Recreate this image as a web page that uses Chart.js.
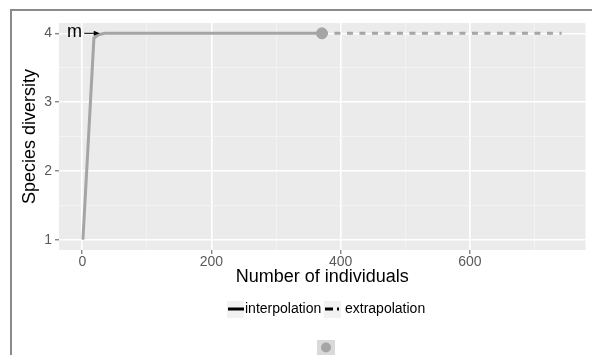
<!DOCTYPE html>
<html>
<head>
<meta charset="utf-8">
<script src="https://cdn.jsdelivr.net/npm/chart.js@4.4.1/dist/chart.umd.min.js"></script>
<style>
  html, body { margin: 0; padding: 0; background: #fff; }
  #wrap { position: relative; width: 592px; height: 355px; }
</style>
</head>
<body>
<div id="wrap"><canvas id="chart"></canvas></div>
<script>
// rarefaction (interpolation) and extrapolation curves
const interpX = [1, 18, 25, 35, 371];
const interpY = [1, 3.93, 3.98, 4.0, 4.0];
const extrapX = [371, 742];
const extrapY = [4.0, 4.0];
const observedX = [371];
const observedY = [4.0];

const xTickValues = [0, 100, 200, 300, 400, 500, 600, 700];
const xTickLabels = ['0', '', '200', '', '400', '', '600', ''];
const yTickValues = [1, 1.5, 2, 2.5, 3, 3.5, 4];
const yTickLabels = ['1', '', '2', '', '3', '', '4'];

const xTitle = 'Number of individuals';
const yTitle = 'Species diversity';
const legendLabels = ['interpolation', 'extrapolation'];
const siteLabel = 'm';

const lineGrey = '#a5a5a5';
const font = '"Liberation Sans", Arial, sans-serif';

const toPts = (xs, ys) => xs.map((x, i) => ({ x, y: ys[i] }));

const decor = {
  id: 'decor',
  beforeDraw(chart) {
    const { ctx, chartArea: a } = chart;
    ctx.save();
    ctx.fillStyle = '#ebebeb';
    ctx.fillRect(a.left, a.top, a.right - a.left, a.bottom - a.top);
    ctx.restore();
  },
  afterDraw(chart) {
    const { ctx, chartArea: a, scales } = chart;
    ctx.save();
    // outer frame (top and left only)
    ctx.strokeStyle = '#8a8a8a';
    ctx.lineWidth = 2;
    ctx.beginPath();
    ctx.moveTo(11, 355); ctx.lineTo(11, 10); ctx.lineTo(592, 10);
    ctx.stroke();

    // label + arrow next to the curve start
    const yv = scales.y.getPixelForValue(4);
    ctx.fillStyle = '#000';
    ctx.font = '18px ' + font;
    ctx.textAlign = 'center';
    ctx.textBaseline = 'middle';
    ctx.fillText(siteLabel, scales.x.getPixelForValue(-12), yv - 1);
    const ax0 = scales.x.getPixelForValue(3), ax1 = scales.x.getPixelForValue(27);
    ctx.strokeStyle = '#000';
    ctx.lineWidth = 1;
    ctx.beginPath(); ctx.moveTo(ax0, yv); ctx.lineTo(ax1 - 3, yv); ctx.stroke();
    ctx.beginPath(); ctx.moveTo(ax1, yv); ctx.lineTo(ax1 - 6, yv - 2.5); ctx.lineTo(ax1 - 6, yv + 2.5); ctx.closePath(); ctx.fill();

    // axis titles
    ctx.font = '18px ' + font;
    ctx.fillStyle = '#000';
    ctx.textAlign = 'center';
    ctx.textBaseline = 'middle';
    ctx.fillText(xTitle, (a.left + a.right) / 2, 277);
    ctx.save();
    ctx.translate(30, (a.top + a.bottom) / 2);
    ctx.rotate(-Math.PI / 2);
    ctx.fillText(yTitle, 0, 0);
    ctx.restore();

    // legend
    const ly = 309;
    ctx.fillStyle = '#f2f2f2';
    ctx.fillRect(227, ly - 8, 17, 17);
    ctx.fillRect(324, ly - 8, 17, 17);
    ctx.strokeStyle = '#000';
    ctx.lineWidth = 3;
    ctx.beginPath(); ctx.moveTo(228, ly); ctx.lineTo(244, ly); ctx.stroke();
    ctx.setLineDash([8, 4]);
    ctx.beginPath(); ctx.moveTo(325, ly); ctx.lineTo(339, ly); ctx.stroke();
    ctx.setLineDash([]);
    ctx.font = '14px ' + font;
    ctx.fillStyle = '#000';
    ctx.textAlign = 'left';
    ctx.fillText(legendLabels[0], 245, ly);
    ctx.fillText(legendLabels[1], 345, ly);

    // point legend key
    ctx.fillStyle = '#d9d9d9';
    ctx.fillRect(317, 340, 18, 16);
    ctx.fillStyle = lineGrey;
    ctx.beginPath(); ctx.arc(326, 347.5, 5, 0, Math.PI * 2); ctx.fill();
    ctx.restore();
  }
};

const gridColor = (ctx) => ctx.tick && ctx.tick.major ? '#ffffff' : '#f6f6f6';

new Chart(document.getElementById('chart'), {
  type: 'scatter',
  data: {
    datasets: [
      { label: 'interpolation', data: toPts(interpX, interpY), showLine: true, borderColor: lineGrey, borderWidth: 3, pointRadius: 0, tension: 0 },
      { label: 'extrapolation', data: toPts(extrapX, extrapY), showLine: true, borderColor: lineGrey, borderWidth: 3, borderDash: [6, 6.5], pointRadius: 0 },
      { label: 'observed', data: toPts(observedX, observedY), backgroundColor: lineGrey, borderColor: lineGrey, pointRadius: 5.5 }
    ]
  },
  options: {
    responsive: true,
    maintainAspectRatio: false,
    animation: false,
    layout: { padding: { left: 0, right: 2, top: 23, bottom: 0 } },
    plugins: { legend: { display: false }, tooltip: { enabled: false } },
    scales: {
      x: {
        type: 'linear', min: -36.05, max: 779.05,
        afterBuildTicks: (s) => { s.ticks = xTickValues.map((v, i) => ({ value: v, major: xTickLabels[i] !== '' })); },
        afterFit: (s) => { s.height = 105; },
        ticks: {
          callback: (v, i) => xTickLabels[i],
          color: '#5a5a5a', font: { family: font, size: 14 }, padding: 0, maxRotation: 0, autoSkip: false
        },
        grid: {
          color: (c) => (xTickLabels[c.index] !== '' ? '#ffffff' : '#f5f5f5'),
          lineWidth: (c) => (xTickLabels[c.index] !== '' ? 1.6 : 0.8),
          tickColor: (c) => (xTickLabels[c.index] !== '' ? '#555' : 'rgba(0,0,0,0)'),
          tickLength: 4, tickWidth: 1
        },
        border: { display: false }
      },
      y: {
        type: 'linear', min: 0.85, max: 4.15,
        afterBuildTicks: (s) => { s.ticks = yTickValues.map((v, i) => ({ value: v })); },
        afterFit: (s) => { s.width = 59; },
        ticks: {
          callback: (v, i) => yTickLabels[i],
          color: '#5a5a5a', font: { family: font, size: 14 }, padding: 3, autoSkip: false
        },
        grid: {
          color: (c) => (yTickLabels[c.index] !== '' ? '#ffffff' : '#f5f5f5'),
          lineWidth: (c) => (yTickLabels[c.index] !== '' ? 1.6 : 0.8),
          tickColor: (c) => (yTickLabels[c.index] !== '' ? '#555' : 'rgba(0,0,0,0)'),
          tickLength: 4, tickWidth: 1
        },
        border: { display: false }
      }
    }
  },
  plugins: [decor]
});
</script>
</body>
</html>
